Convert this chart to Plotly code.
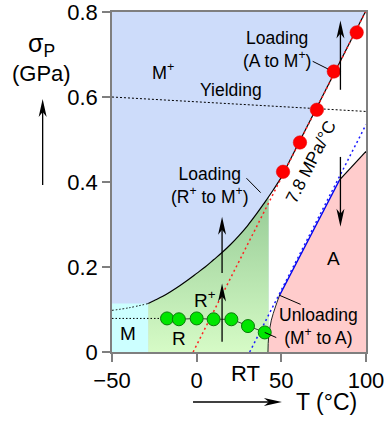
import math
import numpy as np
import plotly.graph_objects as go

# ---------------- data (T in °C, stress σP in GPa) ----------------
T_RANGE = [-50, 100]
S_RANGE = [0, 0.8]
x_ticks = [-50, 0, 50, 100]
x_tick_text = ["\u221250", "0", "50", "100"]
y_ticks = [0, 0.2, 0.4, 0.6, 0.8]
y_tick_text = ["0", "0.2", "0.4", "0.6", "0.8"]

# R+ / M+ transformation boundary (solid), merging into the loading line
rm_T = [-28.6, -25, -20, -15, -10, -5, 0, 5, 10, 15, 20, 25, 30, 35, 40, 45, 50]
rm_s = [0.114, 0.121, 0.131, 0.143, 0.156, 0.170, 0.185, 0.200, 0.217,
        0.234, 0.253, 0.274, 0.297, 0.323, 0.351, 0.380, 0.411]
# dotted continuation of that boundary over the M field
rm_ext_T = [-50, -40, -28.6]
rm_ext_s = [0.098, 0.104, 0.114]

# loading line, 7.8 MPa/°C
load_T = [-2.1, 99.6]
load_s = [0.0, 0.8]
# unloading line (parallel)
unload_T = [31.3, 100]
unload_s = [0.0, 0.535]

# austenite field boundary
a_T = [42.1, 42.5, 44.1, 46.5, 48.8, 84.4, 100]
a_s = [0.0, 0.035, 0.075, 0.106, 0.132, 0.405, 0.472]

# yield limit
yield_T = [-50, 100]
yield_s = [0.600, 0.566]

# M field and R field limits
m_field_T = [-50, -28.6]
m_field_top = 0.114
r_edge_T = 42.5

# measured points
rt_T = [-17.5, -10.5, 0, 10, 20.5, 30.3, 40.2]
rt_s = [0.079, 0.077, 0.079, 0.077, 0.077, 0.061, 0.046]
am_T = [51, 61, 71, 81, 94.5]
am_s = [0.424, 0.493, 0.570, 0.660, 0.752]

# arrows (tail, head) in data units
data_arrows = [((84.9, 0.617), (84.9, 0.780)),
               ((84.9, 0.459), (84.9, 0.295)),
               ((15.0, 0.186), (15.0, 0.318)),
               ((15.0, 0.024), (15.0, 0.161))]
# leader lines from labels
leaders = [((68.5, 0.684), (77.5, 0.666)),
           ((29.4, 0.409), (37.8, 0.375)),
           ((48.6, 0.134), (61.4, 0.112)),
           ((40.2, 0.046), (47.0, 0.034))]

# ---------------- layout geometry ----------------
W, H = 388, 421
ML, MR, MT, MB = 112, 22, 12, 69
PW, PH = W - ML - MR, H - MT - MB
KX = PW / (T_RANGE[1] - T_RANGE[0])   # px per °C
KY = PH / (S_RANGE[1] - S_RANGE[0])   # px per GPa

FONT = "Liberation Sans, Arial, Helvetica, sans-serif"
BLUE_BG = "#cddcfa"
PINK = "#ffcccc"
CYAN = "#ccffff"
AXIS_GREY = "#7f7f7f"

fig = go.Figure()

# white band right of the R field, below the loading line
s_edge = float(np.interp(r_edge_T, rm_T, rm_s))
white_T = [r_edge_T, r_edge_T, r_edge_T + 0.01] + [t for t in rm_T if t > r_edge_T] + [load_T[1], 100, 100]
white_s = [0, s_edge, s_edge] + [s for t, s in zip(rm_T, rm_s) if t > r_edge_T] + [load_s[1], 0.8, 0]
fig.add_trace(go.Scatter(x=white_T, y=white_s, fill="toself", fillcolor="white",
                         mode="lines", line=dict(width=0), hoverinfo="skip"))

# austenite field
fig.add_trace(go.Scatter(x=a_T + [100], y=a_s + [0], fill="toself", fillcolor=PINK,
                         mode="lines", line=dict(width=0), hoverinfo="skip"))

# M field
fig.add_trace(go.Scatter(x=[m_field_T[0], m_field_T[1], m_field_T[1], m_field_T[0]],
                         y=[0, 0, m_field_top, m_field_top], fill="toself", fillcolor=CYAN,
                         mode="lines", line=dict(width=0), hoverinfo="skip"))

# R / R+ field with vertical gradient
curve_T = [t for t in rm_T if t < r_edge_T] + [r_edge_T]
curve_s = [s for t, s in zip(rm_T, rm_s) if t < r_edge_T] + [s_edge]
g_T = [rm_T[0], r_edge_T] + curve_T[::-1]
g_s = [0, 0] + curve_s[::-1]
fig.add_trace(go.Scatter(
    x=g_T, y=g_s, fill="toself", mode="lines", line=dict(width=0), hoverinfo="skip",
    fillgradient=dict(type="vertical", start=0, stop=s_edge,
                      colorscale=[[0, "#d6fbc6"], [1, "#96cb96"]])))

# boundary lines
fig.add_trace(go.Scatter(x=rm_ext_T, y=rm_ext_s, mode="lines", line_shape="spline",
                         line=dict(color="black", width=1, dash="1.5px,2px")))
fig.add_trace(go.Scatter(x=rm_T, y=rm_s, mode="lines", line_shape="spline",
                         line=dict(color="black", width=1.2)))
fig.add_trace(go.Scatter(x=[rm_T[-1], load_T[1]], y=[rm_s[-1], load_s[1]], mode="lines",
                         line=dict(color="black", width=1.2)))
fig.add_trace(go.Scatter(x=yield_T, y=yield_s, mode="lines",
                         line=dict(color="black", width=1, dash="2px,2px")))
fig.add_trace(go.Scatter(x=[rm_ext_T[0], rt_T[0]], y=[rt_s[0], rt_s[0]], mode="lines",
                         line=dict(color="black", width=1, dash="1.5px,2px")))

# austenite boundary: thin black knee, blue segment, black top
fig.add_trace(go.Scatter(x=a_T[:5], y=a_s[:5], mode="lines", line_shape="spline",
                         line=dict(color="#222222", width=1)))
fig.add_trace(go.Scatter(x=a_T[4:6], y=a_s[4:6], mode="lines",
                         line=dict(color="#0000ee", width=1.3)))
fig.add_trace(go.Scatter(x=a_T[5:], y=a_s[5:], mode="lines",
                         line=dict(color="black", width=1.2)))

# loading / unloading lines
fig.add_trace(go.Scatter(x=unload_T, y=unload_s, mode="lines",
                         line=dict(color="#1a1aff", width=1.5, dash="2px,3px")))
fig.add_trace(go.Scatter(x=load_T, y=load_s, mode="lines",
                         line=dict(color="#ff2020", width=1.5, dash="2px,3px")))

# measured points
fig.add_trace(go.Scatter(x=rt_T, y=rt_s, mode="lines+markers",
                         line=dict(color="#3a3a3a", width=1),
                         marker=dict(size=13, color="#00e600",
                                     line=dict(color="#0a7a0a", width=1))))
fig.add_trace(go.Scatter(x=am_T, y=am_s, mode="markers",
                         marker=dict(size=13.5, color="#ff0000",
                                     line=dict(color="#e00000", width=0.5))))

# ---------------- arrows & leaders ----------------
shapes = []


def arrow(tail, head, xref, yref, kx, ky, width=1.3, hl=18, hw=8):
    (x0, y0), (x1, y1) = tail, head
    dx, dy = (x1 - x0) * kx, (y1 - y0) * ky
    n = math.hypot(dx, dy)
    ux, uy = dx / n, dy / n
    px_, py_ = -uy, ux

    def at(back, side):
        return (x1 + (-back * ux + side * px_) / kx,
                y1 + (-back * uy + side * py_) / ky)

    sx, sy = at(hl * 0.6, 0)
    shapes.append(dict(type="line", xref=xref, yref=yref, x0=x0, y0=y0, x1=sx, y1=sy,
                       line=dict(color="black", width=width)))
    pts = [(x1, y1), at(hl, hw / 2), at(hl * 0.72, 0), at(hl, -hw / 2)]
    path = "M" + " L".join(f"{a:.5f},{b:.5f}" for a, b in pts) + " Z"
    shapes.append(dict(type="path", xref=xref, yref=yref, path=path,
                       fillcolor="black", line=dict(width=0)))


for tail, head in data_arrows:
    arrow(tail, head, "x", "y", KX, KY)

# axis-direction arrows outside the plot (paper units)
arrow((-0.273, 0.491), (-0.273, 0.744), "paper", "paper", PW, PH)
arrow((0.319, -0.147), (0.669, -0.147), "paper", "paper", PW, PH)

for (a, b) in leaders:
    shapes.append(dict(type="line", xref="x", yref="y", x0=a[0], y0=a[1], x1=b[0], y1=b[1],
                       line=dict(color="black", width=1)))

# ---------------- labels ----------------
LBL = 17.5
annotations = []


def label(text, x, y, size=LBL, **kw):
    d = dict(text=text, x=x, y=y, xref="x", yref="y", showarrow=False,
             font=dict(family=FONT, size=size, color="black"),
             xanchor="center", yanchor="middle", align="center")
    d.update(kw)
    annotations.append(d)


label("M<sup>+</sup>", -20.0, 0.660, size=18)
label("Loading<br>(A to M<sup>+</sup>)", 47.2, 0.712)
label("Yielding", 20.1, 0.617)
label("Loading<br>(R<sup>+</sup> to M<sup>+</sup>)", 7.8, 0.391)
label("7.8 MPa/°C", 67.3, 0.447, textangle=-63)
label("A", 80.8, 0.219, size=19)
label("R<sup>+</sup>", 4.8, 0.125, size=19)
label("M", -40.3, 0.044, size=19)
label("R", -10.5, 0.032, size=19)
label("Unloading<br>(M<sup>+</sup> to A)", 71.7, 0.060)

# RT marker under the axis and axis titles
annotations.append(dict(text="RT", x=28.7, y=-0.062, xref="x", yref="paper", showarrow=False,
                        font=dict(family=FONT, size=22, color="black"),
                        xanchor="center", yanchor="middle"))
annotations.append(dict(text="T (°C)", x=0.845, y=-0.147, xref="paper", yref="paper",
                        showarrow=False, font=dict(family=FONT, size=23, color="black"),
                        xanchor="center", yanchor="middle"))
annotations.append(dict(text="σ<sub>P</sub>", x=-0.2756, y=0.903, xref="paper", yref="paper",
                        showarrow=False, font=dict(family=FONT, size=25, color="black"),
                        xanchor="center", yanchor="middle"))
annotations.append(dict(text="(GPa)", x=-0.2756, y=0.818, xref="paper", yref="paper",
                        showarrow=False, font=dict(family=FONT, size=22, color="black"),
                        xanchor="center", yanchor="middle"))

axis_common = dict(showline=True, mirror=True, linecolor=AXIS_GREY, linewidth=1.5,
                   ticks="outside", ticklen=8, tickwidth=1.5, tickcolor=AXIS_GREY,
                   showgrid=False, zeroline=False, automargin=False,
                   ticklabeloverflow="allow",
                   tickfont=dict(family=FONT, size=22, color="black"))

fig.update_layout(
    width=W, height=H,
    margin=dict(l=ML, r=MR, t=MT, b=MB),
    paper_bgcolor="white", plot_bgcolor=BLUE_BG,
    showlegend=False,
    xaxis=dict(range=T_RANGE, tickvals=x_ticks, ticktext=x_tick_text, **axis_common),
    yaxis=dict(range=S_RANGE, tickvals=y_ticks, ticktext=y_tick_text, **axis_common),
    shapes=shapes, annotations=annotations,
)

fig.write_html("out.html")
